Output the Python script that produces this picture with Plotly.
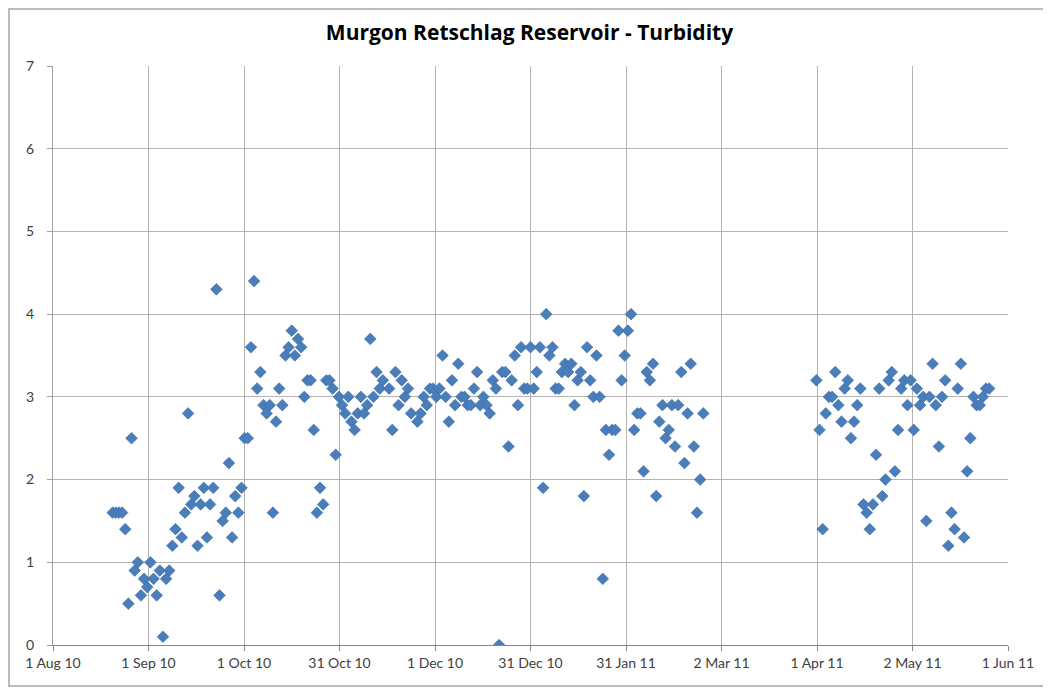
import pandas as pd
import plotly.graph_objects as go

title_text = "Murgon Retschlag Reservoir - Turbidity"

sample_dates = [
    "2010-08-20", "2010-08-21", "2010-08-22", "2010-08-23", "2010-08-24", "2010-08-25",
    "2010-08-26", "2010-08-27", "2010-08-28", "2010-08-29", "2010-08-30", "2010-08-31",
    "2010-09-01", "2010-09-02", "2010-09-03", "2010-09-04", "2010-09-05", "2010-09-06",
    "2010-09-07", "2010-09-08", "2010-09-09", "2010-09-10", "2010-09-11", "2010-09-12",
    "2010-09-13", "2010-09-14", "2010-09-15", "2010-09-16", "2010-09-17", "2010-09-18",
    "2010-09-19", "2010-09-20", "2010-09-21", "2010-09-22", "2010-09-23", "2010-09-24",
    "2010-09-25", "2010-09-26", "2010-09-27", "2010-09-28", "2010-09-29", "2010-09-30",
    "2010-10-01", "2010-10-02", "2010-10-03", "2010-10-04", "2010-10-05", "2010-10-06",
    "2010-10-07", "2010-10-08", "2010-10-09", "2010-10-10", "2010-10-11", "2010-10-12",
    "2010-10-13", "2010-10-14", "2010-10-15", "2010-10-16", "2010-10-17", "2010-10-18",
    "2010-10-19", "2010-10-20", "2010-10-21", "2010-10-22", "2010-10-23", "2010-10-24",
    "2010-10-25", "2010-10-26", "2010-10-27", "2010-10-28", "2010-10-29", "2010-10-30",
    "2010-10-31",
    "2010-11-01", "2010-11-02", "2010-11-03", "2010-11-04", "2010-11-05", "2010-11-06",
    "2010-11-07", "2010-11-08", "2010-11-09", "2010-11-10", "2010-11-11", "2010-11-12",
    "2010-11-13", "2010-11-14", "2010-11-16", "2010-11-17", "2010-11-18", "2010-11-19",
    "2010-11-20", "2010-11-21", "2010-11-22", "2010-11-23", "2010-11-25", "2010-11-26",
    "2010-11-27", "2010-11-28", "2010-11-29", "2010-11-30",
    "2010-12-01", "2010-12-02", "2010-12-03", "2010-12-04", "2010-12-05", "2010-12-06",
    "2010-12-07", "2010-12-08", "2010-12-09", "2010-12-10", "2010-12-11", "2010-12-12",
    "2010-12-13", "2010-12-14", "2010-12-15", "2010-12-16", "2010-12-17", "2010-12-18",
    "2010-12-19", "2010-12-20", "2010-12-21", "2010-12-22", "2010-12-23", "2010-12-24",
    "2010-12-25", "2010-12-26", "2010-12-27", "2010-12-28", "2010-12-29", "2010-12-30",
    "2010-12-31",
    "2011-01-01", "2011-01-02", "2011-01-03", "2011-01-04", "2011-01-05", "2011-01-06",
    "2011-01-07", "2011-01-08", "2011-01-09", "2011-01-10", "2011-01-11", "2011-01-12",
    "2011-01-13", "2011-01-14", "2011-01-15", "2011-01-16", "2011-01-17", "2011-01-18",
    "2011-01-19", "2011-01-20", "2011-01-21", "2011-01-22", "2011-01-23", "2011-01-24",
    "2011-01-25", "2011-01-26", "2011-01-27", "2011-01-28", "2011-01-29", "2011-01-30",
    "2011-01-31",
    "2011-02-01", "2011-02-02", "2011-02-03", "2011-02-04", "2011-02-05", "2011-02-06",
    "2011-02-07", "2011-02-08", "2011-02-09", "2011-02-10", "2011-02-11", "2011-02-12",
    "2011-02-13", "2011-02-14", "2011-02-15", "2011-02-16", "2011-02-17", "2011-02-18",
    "2011-02-19", "2011-02-20", "2011-02-21", "2011-02-22", "2011-02-23", "2011-02-24",
    "2011-04-01", "2011-04-02", "2011-04-03", "2011-04-04", "2011-04-05", "2011-04-06",
    "2011-04-07", "2011-04-08", "2011-04-09", "2011-04-10", "2011-04-11", "2011-04-12",
    "2011-04-13", "2011-04-14", "2011-04-15", "2011-04-16", "2011-04-17", "2011-04-18",
    "2011-04-19", "2011-04-20", "2011-04-21", "2011-04-22", "2011-04-23", "2011-04-24",
    "2011-04-25", "2011-04-26", "2011-04-27", "2011-04-28", "2011-04-29", "2011-04-30",
    "2011-05-01", "2011-05-02", "2011-05-03", "2011-05-04", "2011-05-05", "2011-05-06",
    "2011-05-07", "2011-05-08", "2011-05-09", "2011-05-10", "2011-05-11", "2011-05-12",
    "2011-05-13", "2011-05-14", "2011-05-15", "2011-05-16", "2011-05-17", "2011-05-18",
    "2011-05-19", "2011-05-20", "2011-05-21", "2011-05-22", "2011-05-23", "2011-05-24",
    "2011-05-25", "2011-05-26",
]

turbidity = [
    1.6, 1.6, 1.6, 1.6, 1.4, 0.5,
    2.5, 0.9, 1.0, 0.6, 0.8, 0.7,
    1.0, 0.8, 0.6, 0.9, 0.1, 0.8,
    0.9, 1.2, 1.4, 1.9, 1.3, 1.6,
    2.8, 1.7, 1.8, 1.2, 1.7, 1.9,
    1.3, 1.7, 1.9, 4.3, 0.6, 1.5,
    1.6, 2.2, 1.3, 1.8, 1.6, 1.9,
    2.5, 2.5, 3.6, 4.4, 3.1, 3.3,
    2.9, 2.8, 2.9, 1.6, 2.7, 3.1,
    2.9, 3.5, 3.6, 3.8, 3.5, 3.7,
    3.6, 3.0, 3.2, 3.2, 2.6, 1.6,
    1.9, 1.7, 3.2, 3.2, 3.1, 2.3,
    3.0,
    2.9, 2.8, 3.0, 2.7, 2.6, 2.8,
    3.0, 2.8, 2.9, 3.7, 3.0, 3.3,
    3.1, 3.2, 3.1, 2.6, 3.3, 2.9,
    3.2, 3.0, 3.1, 2.8, 2.7, 2.8,
    3.0, 2.9, 3.1, 3.1,
    3.0, 3.1, 3.5, 3.0, 2.7, 3.2,
    2.9, 3.4, 3.0, 3.0, 2.9, 2.9,
    3.1, 3.3, 2.9, 3.0, 2.9, 2.8,
    3.2, 3.1, 0.0, 3.3, 3.3, 2.4,
    3.2, 3.5, 2.9, 3.6, 3.1, 3.1,
    3.6,
    3.1, 3.3, 3.6, 1.9, 4.0, 3.5,
    3.6, 3.1, 3.1, 3.3, 3.4, 3.3,
    3.4, 2.9, 3.2, 3.3, 1.8, 3.6,
    3.2, 3.0, 3.5, 3.0, 0.8, 2.6,
    2.3, 2.6, 2.6, 3.8, 3.2, 3.5,
    3.8,
    4.0, 2.6, 2.8, 2.8, 2.1, 3.3,
    3.2, 3.4, 1.8, 2.7, 2.9, 2.5,
    2.6, 2.9, 2.4, 2.9, 3.3, 2.2,
    2.8, 3.4, 2.4, 1.6, 2.0, 2.8,
    3.2, 2.6, 1.4, 2.8, 3.0, 3.0,
    3.3, 2.9, 2.7, 3.1, 3.2, 2.5,
    2.7, 2.9, 3.1, 1.7, 1.6, 1.4,
    1.7, 2.3, 3.1, 1.8, 2.0, 3.2,
    3.3, 2.1, 2.6, 3.1, 3.2, 2.9,
    3.2, 2.6, 3.1, 2.9, 3.0, 1.5,
    3.0, 3.4, 2.9, 2.4, 3.0, 3.2,
    1.2, 1.6, 1.4, 3.1, 3.4, 1.3,
    2.1, 2.5, 3.0, 2.9, 2.9, 3.0,
    3.1, 3.1,
]

x_tick_labels = ["1 Aug 10", "1 Sep 10", "1 Oct 10", "31 Oct 10", "1 Dec 10", "31 Dec 10",
                 "31 Jan 11", "2 Mar 11", "1 Apr 11", "2 May 11", "1 Jun 11"]
x_start = "2010-08-01"
x_end = "2011-06-01"
y_ticks = [0, 1, 2, 3, 4, 5, 6, 7]

start = pd.Timestamp(x_start)
end = pd.Timestamp(x_end)
step = (end - start) / (len(x_tick_labels) - 1)
tick_positions = [start + step * i for i in range(len(x_tick_labels))]

# The page body has an 8px margin, so the figure is drawn 8px in from the window edge.
W, H = 1043, 680
ML, MR, MT, MB = 45, 43, 58, 43
PW, PH = W - ML - MR, H - MT - MB

fig = go.Figure()
fig.add_trace(go.Scatter(
    x=pd.to_datetime(sample_dates), y=turbidity, mode="markers",
    marker=dict(symbol="diamond", size=9, color="#4A7EBB",
                line=dict(width=0.6, color="#3B6AA3")),
    showlegend=False,
))

axis_font = dict(family="Lato, Open Sans, sans-serif", size=14, color="#404040")

fig.update_layout(
    width=W, height=H,
    paper_bgcolor="white", plot_bgcolor="white",
    margin=dict(l=ML, r=MR, t=MT, b=MB),
    title=dict(text="<b>" + title_text + "</b>", x=0.5, xanchor="center",
               y=1 - 25 / H, yanchor="middle",
               font=dict(family="Open Sans, Lato, sans-serif", size=21, color="#000000")),
    xaxis=dict(
        type="date", range=[start, end],
        tickvals=tick_positions, ticktext=x_tick_labels,
        showgrid=True, gridcolor="#B3B3B3", gridwidth=1,
        showline=True, linecolor="#868686", linewidth=1,
        ticks="outside", ticklen=5, tickcolor="#868686",
        tickfont=axis_font, zeroline=False,
    ),
    yaxis=dict(
        range=[0, 7], tickvals=y_ticks,
        showgrid=True, gridcolor="#B3B3B3", gridwidth=1,
        showline=True, linecolor="#A0A0A0", linewidth=1,
        ticks="outside", ticklen=5, tickcolor="#A0A0A0",
        ticklabelstandoff=10,
        tickfont=axis_font, zeroline=False,
    ),
    shapes=[dict(type="rect", xref="paper", yref="paper",
                 x0=(1 - ML) / PW, x1=(1038 - ML) / PW,
                 y0=(PH + MT - (H - 2)) / PH, y1=(PH + MT - 1) / PH,
                 line=dict(color="#A6A6A6", width=1.5), fillcolor="rgba(0,0,0,0)",
                 layer="below")],
)

fig.write_html("out.html")
